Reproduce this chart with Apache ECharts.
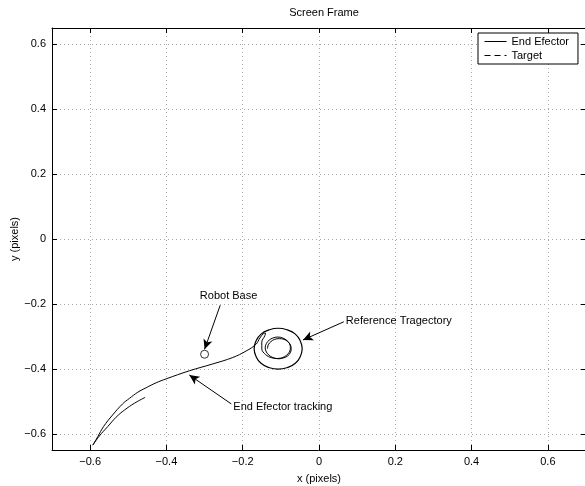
<!DOCTYPE html>
<html><head><meta charset="utf-8">
<script src="https://cdn.jsdelivr.net/npm/echarts@6/dist/echarts.min.js"></script>
<style>html,body{margin:0;padding:0;background:#fff}#c{width:585px;height:486px}</style>
</head><body><div id="c"></div>
<script>
const xTicks = [-0.6, -0.4, -0.2, 0, 0.2, 0.4, 0.6];
const yTicks = [-0.6, -0.4, -0.2, 0, 0.2, 0.4, 0.6];

// End effector path: approach curve, small loop, then inner circles
const effectorX = [-0.593,-0.580,-0.565,-0.541,-0.515,-0.497,-0.475,-0.453,-0.427,-0.401,-0.340,-0.279,-0.226,-0.191,-0.165,
  -0.155,-0.146,-0.140,-0.142,-0.150,-0.150,-0.140,-0.124,
  -0.108,-0.095,-0.085,-0.0775,-0.075,-0.0775,-0.085,-0.095,-0.108,-0.121,-0.131,-0.138,-0.141,-0.138,-0.131,-0.121,-0.106,
  -0.092,-0.082,-0.075,-0.073,-0.075,-0.082,-0.092,-0.104,-0.116,-0.126,-0.133,-0.135];
const effectorY = [-0.635,-0.609,-0.578,-0.542,-0.508,-0.491,-0.472,-0.458,-0.443,-0.431,-0.406,-0.385,-0.365,-0.345,-0.324,
  -0.305,-0.292,-0.290,-0.298,-0.318,-0.338,-0.356,-0.366,
  -0.368,-0.365,-0.358,-0.348,-0.335,-0.322,-0.312,-0.305,-0.302,-0.305,-0.312,-0.322,-0.335,-0.348,-0.358,-0.365,-0.369,
  -0.366,-0.360,-0.350,-0.338,-0.326,-0.316,-0.309,-0.307,-0.309,-0.316,-0.326,-0.338];

// Target: short approach curve
const targetX = [-0.593,-0.576,-0.554,-0.532,-0.510,-0.484,-0.456];
const targetY = [-0.635,-0.607,-0.578,-0.549,-0.527,-0.506,-0.488];

// Reference trajectory (outer circle)
const refX = [-0.044,-0.049,-0.062,-0.083,-0.107,-0.131,-0.152,-0.165,-0.170,-0.165,-0.152,-0.131,-0.107,-0.083,-0.062,-0.049,-0.044];
const refY = [-0.338,-0.314,-0.293,-0.280,-0.275,-0.280,-0.293,-0.314,-0.338,-0.362,-0.383,-0.396,-0.401,-0.396,-0.383,-0.362,-0.338];

const robotBase = [-0.300, -0.355];

const zip = (a, b) => a.map((v, i) => [v, b[i]]);
const fmt = v => (v < 0 ? '\u2212' + Math.abs(v) : String(v));
const FONT = 'Liberation Sans, Arial, Helvetica, sans-serif';

const chart = echarts.init(document.getElementById('c'), null, { renderer: 'canvas' });

const baseX = {
  type: 'value', min: -0.7, max: 0.7,
  axisLine: { show: true, onZero: false, lineStyle: { color: '#000', width: 1 } },
  axisTick: { show: true, inside: true, length: 5, customValues: xTicks, lineStyle: { color: '#000' } }
};
const baseY = {
  type: 'value', min: -0.65, max: 0.65,
  axisLine: { show: true, onZero: false, lineStyle: { color: '#000', width: 1 } },
  axisTick: { show: true, inside: true, length: 5, customValues: yTicks, lineStyle: { color: '#000' } }
};

chart.setOption({
  animation: false,
  backgroundColor: '#fff',
  title: {
    text: 'Screen Frame', left: 319, top: 2, textAlign: 'center',
    textStyle: { fontFamily: FONT, fontSize: 11, fontWeight: 'normal', color: '#000' }
  },
  grid: { left: 52, top: 28, right: -1, bottom: 36, containLabel: false, outerBoundsMode: 'none' },
  legend: {
    orient: 'vertical', left: 478, top: 33,
    backgroundColor: '#fff', borderColor: '#000', borderWidth: 1,
    padding: [3, 9, 3, 6], itemGap: 3, itemWidth: 22, itemHeight: 10,
    itemStyle: { color: 'rgba(0,0,0,0)', borderWidth: 0, opacity: 0 },
    textStyle: { fontFamily: FONT, fontSize: 11, color: '#000' },
    data: [
      { name: 'End Efector', lineStyle: { type: 'solid', width: 1, color: '#000' } },
      { name: 'Target', lineStyle: { type: [6, 4], width: 1, color: '#000' } }
    ]
  },
  xAxis: [
    Object.assign({}, baseX, {
      position: 'bottom',
      name: 'x (pixels)', nameLocation: 'middle', nameGap: 23, nameMoveOverlap: false,
      nameTextStyle: { fontFamily: FONT, fontSize: 11, color: '#000' },
      axisLabel: { show: true, customValues: xTicks, formatter: fmt, margin: 6,
        fontFamily: FONT, fontSize: 11, color: '#000' },
      splitLine: { show: true, lineStyle: { color: '#aaa', type: [1, 3], width: 1 } }
    }),
    Object.assign({}, baseX, {
      position: 'top', axisLabel: { show: false }, splitLine: { show: false }
    })
  ],
  yAxis: [
    Object.assign({}, baseY, {
      position: 'left',
      name: 'y (pixels)', nameLocation: 'middle', nameGap: 32, nameMoveOverlap: false,
      nameTextStyle: { fontFamily: FONT, fontSize: 11, color: '#000' },
      axisLabel: { show: true, customValues: yTicks, formatter: fmt, margin: 6,
        fontFamily: FONT, fontSize: 11, color: '#000' },
      splitLine: { show: true, lineStyle: { color: '#aaa', type: [1, 3], width: 1 } }
    }),
    Object.assign({}, baseY, {
      position: 'right', axisLabel: { show: false }, splitLine: { show: false }
    })
  ],
  series: [
    {
      name: 'End Efector', type: 'line', data: zip(effectorX, effectorY),
      symbol: 'none', smooth: 0.4, lineStyle: { color: '#000', width: 1 },
      itemStyle: { color: '#000' }, z: 5
    },
    {
      name: 'Target', type: 'line', data: zip(targetX, targetY),
      symbol: 'none', smooth: 0.4, lineStyle: { color: '#000', width: 1, type: 'solid' },
      itemStyle: { color: '#000' }, z: 5
    },
    {
      name: 'Target', type: 'line', data: zip(refX, refY),
      symbol: 'none', smooth: 0.5, lineStyle: { color: '#000', width: 1.2, type: 'solid' },
      itemStyle: { color: '#000' }, z: 5
    },
    {
      name: 'Robot Base', type: 'scatter', data: [robotBase],
      symbol: 'circle', symbolSize: 8,
      itemStyle: { color: '#fff', borderColor: '#000', borderWidth: 1 }, z: 6,
      markLine: {
        silent: true, symbol: ['none', 'arrow'], symbolSize: [7, 10],
        lineStyle: { color: '#000', width: 1, type: 'solid' },
        label: { show: false },
        data: [
          [{ coord: [-0.259, -0.204] }, { coord: [-0.300, -0.340] }],
          [{ coord: [-0.230, -0.508] }, { coord: [-0.340, -0.419] }],
          [{ coord: [0.065, -0.255] }, { coord: [-0.042, -0.311] }]
        ]
      },
      markPoint: {
        silent: true, symbol: 'circle', symbolSize: 1,
        itemStyle: { color: 'rgba(0,0,0,0)' },
        label: { show: true, color: '#000', fontFamily: FONT, fontSize: 11 },
        data: [
          { name: 'Robot Base', coord: [-0.237, -0.176], label: { position: 'inside', formatter: 'Robot Base' } },
          { name: 'End Efector tracking', coord: [-0.226, -0.517], label: { position: 'right', distance: 0, formatter: 'End Efector tracking' } },
          { name: 'Reference Tragectory', coord: [0.069, -0.252], label: { position: 'right', distance: 0, formatter: 'Reference Tragectory' } }
        ]
      }
    }
  ]
});
</script>
</body></html>
